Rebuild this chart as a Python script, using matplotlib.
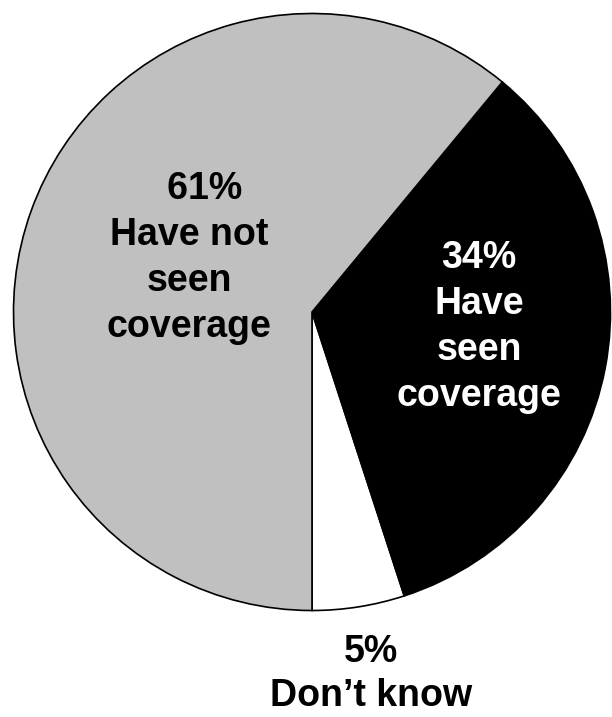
import matplotlib
matplotlib.use("Agg")
import matplotlib.pyplot as plt

labels = ["Don\u2019t know", "Have seen coverage", "Have not seen coverage"]
values = [5, 34, 61]
colors = ["#FFFFFF", "#000000", "#C0C0C0"]

plt.rcParams['font.family'] = ['Liberation Sans', 'DejaVu Sans']

fig = plt.figure(figsize=(6.12, 7.17), dpi=100)
ax = fig.add_axes([12/612, 105/717, 600/612, 600/717])
ax.pie(values, colors=colors, startangle=-90, counterclock=True,
       wedgeprops=dict(edgecolor="black", linewidth=1.2), radius=1.0)
ax.set_xlim(-1.005, 1.005)
ax.set_ylim(-1.005, 1.005)
ax.set_aspect('equal')
ax.axis('off')

def px(x, y):
    return (x / 612, 1 - y / 717)

fs = 27
ls = 1.36
fig.text(*px(189, 258), f"   {values[2]}%\nHave not\nseen\ncoverage", ha='center', va='center',
         fontsize=fs, fontweight='bold', color='black', linespacing=ls)
fig.text(*px(479, 327), f"{values[1]}%\nHave\nseen\ncoverage", ha='center', va='center',
         fontsize=fs, fontweight='bold', color='white', linespacing=ls)
fig.text(*px(371, 674), f"{values[0]}%\n{labels[0]}", ha='center', va='center',
         fontsize=fs, fontweight='bold', color='black', linespacing=1.3)

fig.savefig("out.png", dpi=100)
